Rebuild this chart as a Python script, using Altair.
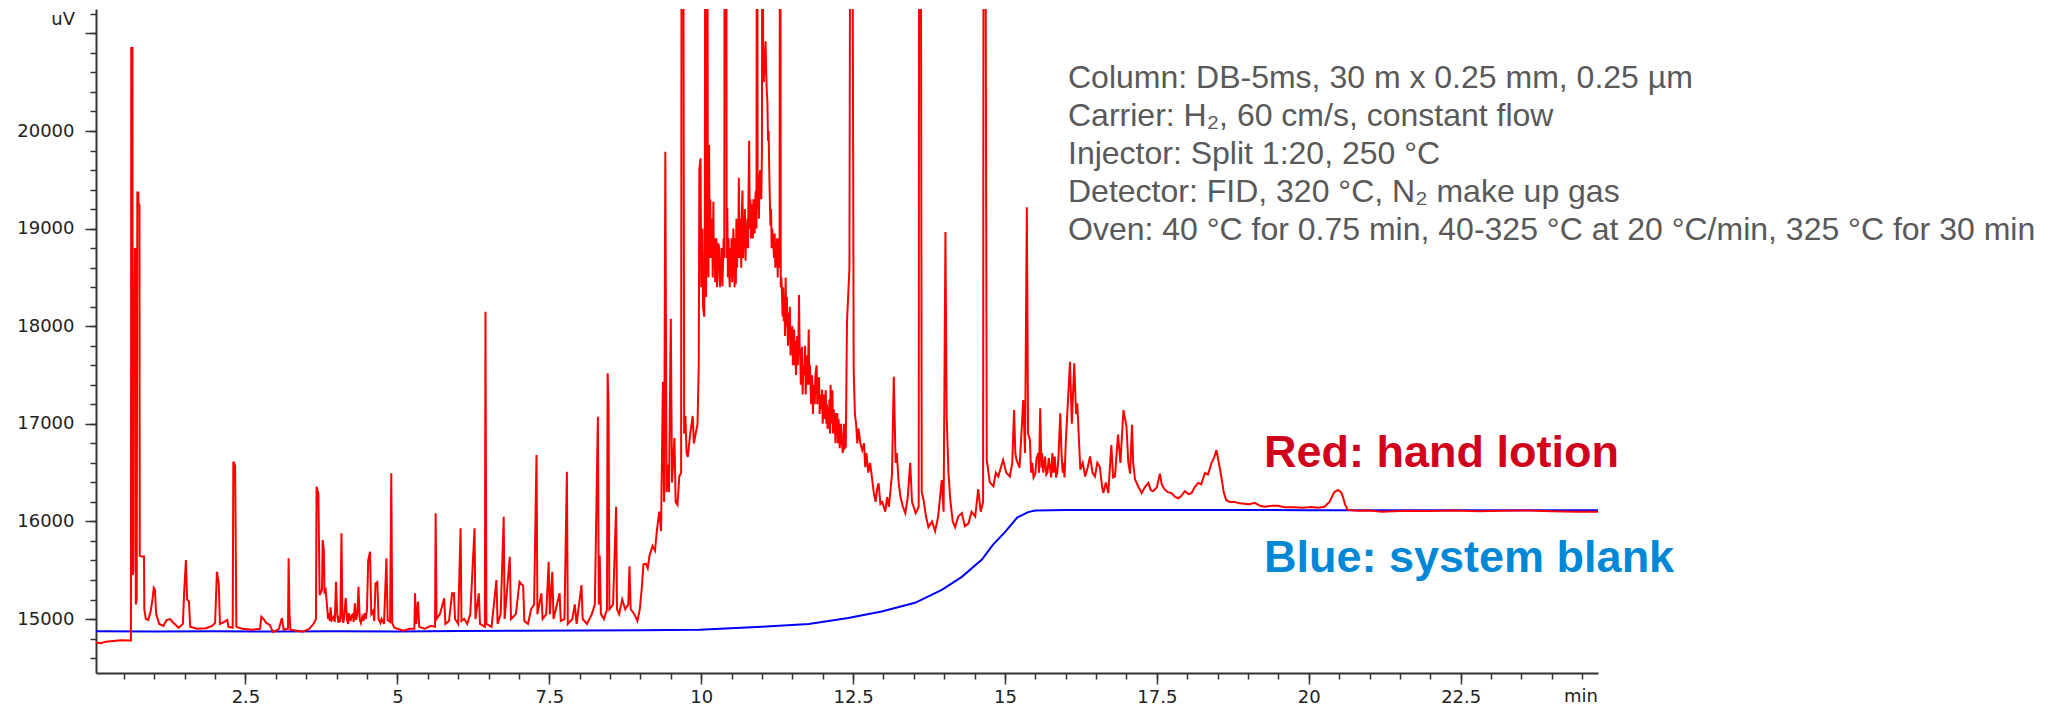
import altair as alt
import pandas as pd

# ---------------- data (minutes, uV) ----------------
TOP = 25000  # peaks that run off the top of the plot

red_early = [
    (0.04, 14760), (0.12, 14752), (0.2, 14768), (0.32, 14775), (0.45, 14782), (0.6, 14780),
    (0.615, 14780), (0.62, 20850), (0.64, 20850), (0.645, 15450), (0.655, 15500), (0.66, 18330),
    (0.675, 18330), (0.68, 18800), (0.69, 18780), (0.695, 15150), (0.71, 15200), (0.72, 19370),
    (0.735, 19370), (0.74, 19250), (0.755, 19240), (0.76, 15650), (0.79, 15640), (0.83, 15640),
    (0.835, 15100), (0.86, 15000), (0.9, 14990), (0.94, 15080), (0.97, 15200), (0.99, 15320),
    (1.01, 15300), (1.03, 15050), (1.08, 14950), (1.15, 14930), (1.2, 14990), (1.26, 15000),
    (1.3, 14970), (1.4, 14910), (1.47, 14950), (1.49, 15263), (1.52, 15604), (1.54, 15200),
    (1.57, 15180), (1.59, 14920), (1.7, 14900), (1.85, 14905), (1.95, 14930), (2.0, 14960),
    (2.03, 15485), (2.06, 15365), (2.08, 14950), (2.15, 14970), (2.2, 14990), (2.22, 14920),
    (2.29, 14910), (2.30, 16612), (2.33, 16570), (2.35, 14920), (2.45, 14900), (2.6, 14890),
    (2.74, 14900), (2.76, 15024), (2.8, 15000), (2.84, 14960), (2.9, 14940), (2.95, 14870),
    (3.0, 14880),
]

red_mid = [
    (3.05, 14900), (3.1, 15010), (3.13, 14890), (3.2, 14900), (3.21, 15622), (3.225, 15040),
    (3.24, 14890), (3.35, 14880), (3.45, 14870), (3.55, 14900), (3.62, 14950), (3.66, 15000),
    (3.67, 16356), (3.7, 16285), (3.72, 15246), (3.76, 15300), (3.77, 15809), (3.79, 15710),
    (3.8, 15280), (3.82, 15300), (3.84, 15150), (3.86, 15000), (3.87, 15060), (3.89, 14980),
    (3.9, 15120), (3.92, 14990), (3.95, 15020), (3.97, 14970), (3.99, 15382), (4.01, 15050),
    (4.03, 14960), (4.04, 15000), (4.06, 14970), (4.08, 15878), (4.095, 15020), (4.11, 14960),
    (4.12, 15000), (4.15, 15216), (4.17, 15000), (4.19, 14950), (4.2, 15060), (4.23, 14980),
    (4.25, 15040), (4.27, 15050), (4.28, 14970), (4.3, 15160), (4.32, 14990), (4.34, 15050),
    (4.36, 15331), (4.38, 15000), (4.4, 14960), (4.42, 15020), (4.44, 14980), (4.46, 15060),
    (4.48, 15000), (4.5, 15100), (4.52, 15604), (4.55, 15690), (4.57, 15050), (4.6, 15080),
    (4.62, 14980), (4.64, 15365), (4.67, 15380), (4.69, 15000), (4.72, 14960), (4.74, 15000),
    (4.78, 14950), (4.82, 15622), (4.84, 14990), (4.88, 14970), (4.9, 16493), (4.915, 14960),
    (4.95, 14910), (5.0, 14900), (5.1, 14880), (5.2, 14900), (5.28, 14900), (5.29, 15263),
    (5.31, 14950), (5.34, 15180), (5.36, 14920), (5.45, 14900), (5.55, 14930), (5.62, 14920),
    (5.63, 16083), (5.645, 15000), (5.7, 15050), (5.77, 15212), (5.79, 14950), (5.85, 14980),
    (5.9, 15263), (5.93, 15263), (5.95, 15000), (6.0, 14950), (6.04, 15929), (6.055, 14980),
    (6.1, 15000), (6.15, 14950), (6.2, 15050), (6.27, 15929), (6.285, 15000), (6.34, 15263),
    (6.36, 14950), (6.44, 14920), (6.45, 18149), (6.465, 14950), (6.55, 14920), (6.63, 15400),
    (6.65, 14950), (6.7, 15050), (6.75, 16048), (6.765, 15000), (6.85, 15638), (6.87, 15000),
    (6.95, 15050), (7.01, 15382), (7.07, 15340), (7.09, 14980), (7.15, 14950), (7.2, 15100),
    (7.25, 15150), (7.29, 16680), (7.305, 15050), (7.37, 15263), (7.39, 15000), (7.45, 15050),
    (7.49, 15587), (7.51, 15050), (7.55, 15485), (7.57, 15000), (7.67, 15263), (7.69, 14980),
    (7.75, 15000), (7.79, 16510), (7.805, 14950), (7.88, 15000), (7.92, 15150), (7.95, 14950),
    (8.03, 15348), (8.05, 15000), (8.12, 14950), (8.2, 15050), (8.25, 15150), (8.30, 17073),
    (8.315, 15150), (8.33, 15650), (8.35, 15050), (8.4, 15000), (8.45, 15100), (8.46, 17517),
    (8.475, 17210), (8.49, 15100), (8.55, 15150), (8.6, 16150), (8.615, 15100), (8.65, 15050),
    (8.7, 15200), (8.75, 15100), (8.8, 15150), (8.82, 15540), (8.84, 15100), (8.9, 15050),
    (8.95, 14980), (8.99, 15100),
]

red_hump = [
    (9.02, 15300), (9.05, 15560), (9.09, 15566), (9.12, 15520), (9.15, 15650), (9.2, 15750),
    (9.24, 15700), (9.27, 15900), (9.31, 16100), (9.34, 15900), (9.37, 17432), (9.39, 16200),
    (9.41, 19787), (9.43, 16300), (9.45, 16580), (9.47, 16300), (9.5, 18077), (9.52, 16400),
    (9.56, 16855), (9.58, 16200), (9.61, 16170), (9.64, 16460), (9.67, 16500), (9.68, TOP),
    (9.70, TOP), (9.72, 16900), (9.74, 17080), (9.76, 16700), (9.78, 16660), (9.82, 16900),
    (9.86, 17080), (9.88, 16800), (9.91, 16900), (9.94, 17000), (9.96, 17600), (9.97, 19610),
    (9.99, 19720), (10.0, 18400), (10.02, 19000), (10.03, 18200), (10.05, 18098), (10.06, 18900),
    (10.07, TOP), (10.08, 18300), (10.09, 19500), (10.1, TOP), (10.11, 18600), (10.12, 18500),
    (10.13, 19857), (10.14, 18700), (10.15, 19300), (10.16, 18700), (10.18, 19100), (10.19, 18500),
    (10.2, 19276), (10.21, 18600), (10.22, 18900), (10.23, 18450), (10.24, 18587), (10.25, 18900),
    (10.26, 18400), (10.27, 18500), (10.28, 18850), (10.3, 18800), (10.31, 18400), (10.32, 18700),
    (10.33, 18450), (10.34, 18800), (10.35, 18410), (10.37, 18900), (10.38, 18700), (10.39, TOP),
    (10.41, TOP), (10.42, 18700), (10.43, 19210), (10.44, 18500), (10.45, 18900), (10.46, 18600),
    (10.47, 18400), (10.48, 18800), (10.49, 18500), (10.5, 18900), (10.51, 18450), (10.52, 18700),
    (10.53, 19000), (10.54, 18760), (10.55, 18400), (10.56, 18900), (10.57, 18430), (10.58, 19100),
    (10.59, 18600), (10.6, 18900), (10.61, 18700), (10.62, 19520), (10.63, 18700), (10.64, 19100),
    (10.65, 18900), (10.66, 18600), (10.67, 19200), (10.68, 19390), (10.69, 18700), (10.7, 19000),
    (10.71, 18800), (10.72, 19200), (10.73, 18670), (10.74, 19000), (10.75, 18800), (10.76, 19100),
    (10.77, 18800), (10.78, 19400), (10.79, 19900), (10.8, 19000), (10.81, 19300), (10.82, 18900),
    (10.83, 19250), (10.84, 19120), (10.85, 18900), (10.86, 19300), (10.87, 19200), (10.88, 18950),
    (10.89, 19300), (10.9, 19390), (10.91, 19000), (10.92, TOP), (10.93, 19200), (10.94, 19400),
    (10.95, 19100), (10.96, 19500), (10.97, 19600), (10.99, 19300), (11.0, 19800), (11.01, TOP),
    (11.02, 20800), (11.03, 20500), (11.06, 20920), (11.07, 20600), (11.08, 20400), (11.09, 20300),
    (11.1, 19900), (11.11, 20000), (11.12, 19610), (11.13, 19300), (11.14, 19030), (11.15, 19200),
    (11.16, 18800), (11.17, 19000), (11.18, 18900), (11.2, 18700), (11.21, 18950), (11.22, 18600),
    (11.23, 18670), (11.25, 18900), (11.26, 18500), (11.27, 18900), (11.29, 18600), (11.30, TOP),
    (11.31, 18400), (11.32, 18500), (11.33, 18320), (11.34, 18100), (11.35, 18400), (11.36, 18050),
    (11.37, 18300), (11.38, 17900), (11.39, 18500), (11.4, 18000), (11.41, 18300), (11.42, 18000),
    (11.43, 17800), (11.44, 18140), (11.45, 17900), (11.46, 18200), (11.47, 17700), (11.48, 17850),
    (11.5, 18000), (11.51, 17600), (11.52, 17900), (11.53, 17965), (11.54, 17600), (11.55, 17850),
    (11.56, 17500), (11.57, 17700), (11.58, 17900), (11.59, 17600), (11.6, 17800), (11.61, 18320),
    (11.62, 17800), (11.63, 17700), (11.64, 17400), (11.65, 17700), (11.66, 17790), (11.67, 17300),
    (11.68, 17600), (11.7, 17500), (11.71, 17800), (11.72, 17300), (11.74, 17700), (11.75, 17400),
    (11.76, 17600), (11.77, 17965), (11.78, 17400), (11.79, 17600), (11.8, 17400), (11.81, 17200),
    (11.82, 17500), (11.83, 17432), (11.84, 17100), (11.85, 17400), (11.87, 17200), (11.88, 17500),
    (11.9, 17600), (11.91, 17200), (11.92, 17450), (11.94, 17475), (11.95, 17100), (11.96, 17300),
    (11.98, 17150), (11.99, 17350), (12.0, 17000), (12.02, 17300), (12.03, 17050), (12.05, 17345),
    (12.06, 17000), (12.07, 17200), (12.08, 16950), (12.1, 16990), (12.11, 17250), (12.12, 16900),
    (12.13, 17400), (12.14, 17000), (12.16, 17345), (12.17, 16900), (12.18, 17150), (12.2, 17000),
    (12.21, 16800), (12.22, 17100), (12.24, 17100), (12.25, 16800), (12.26, 17050), (12.27, 16950),
    (12.28, 16750), (12.3, 17000), (12.31, 16850), (12.33, 16700), (12.35, 17000), (12.36, 16750),
    (12.38, 16765), (12.40, 18050), (12.44, 18590), (12.46, TOP), (12.48, TOP), (12.51, 17560),
    (12.53, 17100), (12.55, 17000), (12.57, 16800), (12.59, 16950), (12.62, 16800), (12.65, 16730),
    (12.68, 16800), (12.7, 16555), (12.72, 16700), (12.75, 16500), (12.78, 16600), (12.81, 16455),
    (12.84, 16300), (12.87, 16200), (12.9, 16350), (12.92, 16390), (12.95, 16180), (12.98, 16200),
    (13.03, 16100), (13.06, 16250), (13.09, 16150),
]

red_late = [
    (13.14, 16480), (13.17, 17483), (13.2, 16600), (13.22, 16700), (13.25, 16400), (13.28, 16250),
    (13.32, 16150), (13.36, 16085), (13.4, 16250), (13.44, 16600), (13.47, 16200), (13.53, 16085),
    (13.58, 16150), (13.59, TOP), (13.61, TOP), (13.63, 16300), (13.66, 16220), (13.7, 16050),
    (13.74, 15940), (13.8, 16000), (13.85, 15900), (13.9, 16050), (13.96, 16425), (13.99, 16100),
    (14.02, 18965), (14.04, 17073), (14.07, 16500), (14.1, 16220), (14.14, 16000), (14.18, 15940),
    (14.23, 16050), (14.29, 16085), (14.34, 15950), (14.4, 15980), (14.45, 16100), (14.51, 16050),
    (14.56, 16330), (14.6, 16100), (14.64, 16200), (14.65, TOP), (14.67, TOP), (14.7, 16630),
    (14.75, 16400), (14.81, 16360), (14.85, 16500), (14.89, 16460), (14.93, 16550), (14.97, 16630),
    (15.02, 16500), (15.08, 16460), (15.12, 16600), (15.15, 17140), (15.17, 16700), (15.19, 16630),
    (15.24, 16550), (15.3, 17244), (15.33, 16700), (15.36, 19220), (15.38, 16900), (15.41, 16835),
    (15.43, 16500), (15.45, 16600), (15.47, 16450), (15.5, 16490), (15.52, 16650), (15.55, 16700),
    (15.56, 16500), (15.58, 17160), (15.6, 16550), (15.61, 16700), (15.63, 16500), (15.66, 16665),
    (15.68, 16480), (15.7, 16500), (15.72, 16650), (15.74, 16560), (15.76, 16450), (15.78, 16700),
    (15.8, 16500), (15.82, 16665), (15.84, 16450), (15.86, 16500), (15.88, 16650), (15.91, 17108),
    (15.93, 16700), (15.95, 16500), (15.96, 16600), (15.98, 16450), (16.0, 16800), (16.04, 17278),
    (16.07, 17636), (16.1, 17000), (16.14, 17620), (16.17, 17100), (16.19, 17210), (16.24, 16530),
    (16.28, 16600), (16.32, 16460), (16.36, 16550), (16.4, 16665), (16.44, 16500), (16.48, 16460),
    (16.52, 16600), (16.56, 16560), (16.6, 16350), (16.62, 16290), (16.66, 16400), (16.7, 16290),
    (16.75, 16783), (16.78, 16450), (16.81, 16460), (16.86, 16890), (16.9, 16600), (16.95, 17141),
    (17.0, 16970), (17.03, 16600), (17.06, 16490), (17.09, 16990), (17.11, 16600), (17.14, 16430),
    (17.2, 16350), (17.25, 16290), (17.3, 16350), (17.36, 16395), (17.4, 16320), (17.44, 16310),
    (17.5, 16350), (17.55, 16490), (17.58, 16380), (17.63, 16325), (17.68, 16300), (17.74, 16290),
    (17.8, 16250), (17.85, 16237), (17.9, 16260), (17.96, 16310), (18.02, 16280), (18.07, 16290),
    (18.12, 16350), (18.18, 16395), (18.23, 16380), (18.29, 16496), (18.34, 16480), (18.4, 16600),
    (18.44, 16650), (18.48, 16732), (18.52, 16600), (18.56, 16460), (18.6, 16300), (18.64, 16220),
    (18.7, 16200), (18.78, 16200), (18.86, 16185), (18.94, 16180), (19.02, 16175), (19.11, 16190),
    (19.2, 16160), (19.27, 16150), (19.4, 16160), (19.49, 16160), (19.6, 16145), (19.76, 16145),
    (19.9, 16140), (20.04, 16148), (20.15, 16140), (20.26, 16150), (20.34, 16200), (20.37, 16237),
    (20.42, 16300), (20.48, 16322), (20.53, 16300), (20.56, 16255), (20.6, 16170), (20.64, 16120),
    (20.8, 16110), (21.0, 16112), (21.2, 16100), (21.6, 16110), (22.0, 16108), (22.4, 16112),
    (22.8, 16105), (23.2, 16110), (23.6, 16112), (24.0, 16105), (24.4, 16100), (24.76, 16100),
]

blue_trace = [
    (0.04, 14875), (1.0, 14872), (2.0, 14875), (3.0, 14872), (4.0, 14875), (5.0, 14872),
    (6.0, 14878), (7.0, 14880), (8.0, 14882), (9.0, 14885), (9.97, 14890), (11.0, 14922),
    (11.77, 14950), (12.42, 15010), (12.97, 15078), (13.52, 15166), (13.96, 15299), (14.29, 15432),
    (14.62, 15610), (14.8, 15760), (15.0, 15890), (15.2, 16040), (15.38, 16095), (15.5, 16112),
    (16.0, 16118), (18.0, 16118), (20.0, 16115), (22.0, 16115), (24.76, 16114),
]

x_major = [2.5, 5, 7.5, 10, 12.5, 15, 17.5, 20, 22.5]
x_minor = [i / 2 for i in range(1, 50)]
y_major = [15000, 16000, 17000, 18000, 19000, 20000, 21000]
y_minor = list(range(14600, 21201, 200))

info_lines = [
    "Column: DB-5ms, 30 m x 0.25 mm, 0.25 µm",
    "Carrier: H₂, 60 cm/s, constant flow",
    "Injector: Split 1:20, 250 °C",
    "Detector: FID, 320 °C, N₂ make up gas",
    "Oven: 40 °C for 0.75 min, 40-325 °C at 20 °C/min, 325 °C for 30 min",
]

# ---------------- frames ----------------
red_pts = red_early + red_mid + red_hump + red_late
red_df = pd.DataFrame({"t": [p[0] for p in red_pts], "v": [p[1] for p in red_pts],
                       "o": list(range(len(red_pts)))})
blue_df = pd.DataFrame({"t": [p[0] for p in blue_trace], "v": [p[1] for p in blue_trace],
                        "o": list(range(len(blue_trace)))})

W, H = 1502, 664
xs = alt.Scale(domain=[0.04, 24.76], nice=False, zero=False)
ys = alt.Scale(domain=[14447, 21250], nice=False, zero=False)

AX = dict(grid=False, title=None, tickColor="#333333", domainColor="#333333",
          labelFont="DejaVu Sans", labelFontSize=18, labelColor="#222222")

x_major_axis = alt.Axis(values=x_major, tickSize=11, tickWidth=1.5, domainWidth=2,
                        labelPadding=4, labelExpr="'' + datum.value", orient="bottom",
                        labelFlush=False, labelOverlap=False, **AX)
x_minor_axis = alt.Axis(values=x_minor, tickSize=6, tickWidth=1.5, labels=False, domain=False,
                        orient="bottom", **AX)
y_major_axis = alt.Axis(values=y_major, tickSize=11, tickWidth=1.5, domainWidth=2,
                        labelPadding=11, orient="left", labelOverlap=False,
                        labelExpr="datum.value >= 21000 ? '' : '' + datum.value", **AX)
y_minor_axis = alt.Axis(values=y_minor, tickSize=6, tickWidth=1.5, labels=False, domain=False,
                        orient="left", **AX)

blue = alt.Chart(blue_df).mark_line(color="#0000ff", strokeWidth=2, clip=True).encode(
    x=alt.X("t:Q", scale=xs, axis=x_minor_axis),
    y=alt.Y("v:Q", scale=ys, axis=y_minor_axis),
    order="o:Q",
)

red = alt.Chart(red_df).mark_line(color="#ff0000", strokeWidth=2, clip=True).encode(
    x=alt.X("t:Q", scale=xs, axis=x_major_axis),
    y=alt.Y("v:Q", scale=ys, axis=y_major_axis),
    order="o:Q",
)

one = pd.DataFrame({"a": [0]})


def label(text, x, y, **kw):
    return alt.Chart(one).mark_text(**kw).encode(
        x=alt.value(x), y=alt.value(y), text=alt.value(text))


texts = []
for i, line in enumerate(info_lines):
    texts.append(label(line, 972, 79.3 + 37.9 * i, align="left", baseline="alphabetic",
                       font="Liberation Sans", fontSize=32, color="#595959"))
texts.append(label("Red: hand lotion", 1168, 458, align="left", baseline="alphabetic",
                   font="Liberation Sans", fontSize=45, fontWeight="bold", color="#d0021b"))
texts.append(label("Blue: system blank", 1168, 563, align="left", baseline="alphabetic",
                   font="Liberation Sans", fontSize=45, fontWeight="bold", color="#0088d6"))
texts.append(label("uV", -21, 11, align="right", baseline="middle",
                   font="DejaVu Sans", fontSize=18, color="#222222"))
texts.append(label("min", 1485, 679, align="center", baseline="top",
                   font="DejaVu Sans", fontSize=18, color="#222222"))

chart = alt.layer(blue, red, *texts).resolve_axis(
    x="independent", y="independent"
).properties(
    width=W, height=H,
    background="white",
    padding={"left": 88, "top": 1, "right": 445, "bottom": 36},
    autosize=alt.AutoSizeParams(type="none"),
).configure_view(strokeWidth=0, stroke="transparent")

chart.save("out.html", embed_options={"renderer": "svg", "actions": False})
